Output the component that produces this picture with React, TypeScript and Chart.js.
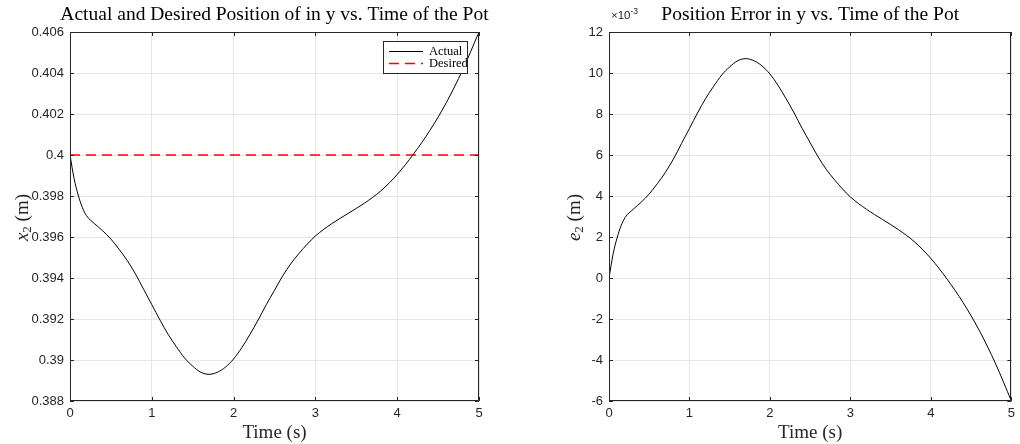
import React, { useEffect, useRef } from "react";
import { Chart, registerables } from "chart.js";

Chart.register(...registerables);

// ---- data ----
const timeS = [0, 0.05, 0.1, 0.15, 0.2, 0.3, 0.4, 0.5, 0.6, 0.7, 0.8, 0.9, 1.0, 1.1, 1.2, 1.3, 1.4, 1.5, 1.6, 1.7, 1.8, 1.9, 2.0, 2.1, 2.2, 2.3, 2.4, 2.5, 2.6, 2.7, 2.8, 2.9, 3.0, 3.2, 3.4, 3.6, 3.8, 4.0, 4.2, 4.4, 4.6, 4.8, 5.0];
const actualPos = [0.4, 0.39885, 0.39805, 0.39745, 0.39705, 0.39665, 0.3963, 0.3959, 0.3954, 0.39485, 0.3942, 0.39345, 0.3927, 0.39195, 0.39125, 0.39065, 0.3901, 0.3897, 0.3894, 0.3893, 0.3894, 0.38965, 0.39005, 0.3906, 0.39125, 0.39195, 0.3927, 0.3934, 0.3941, 0.3947, 0.3952, 0.39565, 0.39605, 0.39665, 0.39715, 0.39765, 0.39825, 0.39905, 0.40005, 0.4012, 0.40255, 0.40415, 0.406];
const desiredTime = [0, 5];
const desiredPos = [0.4, 0.4];
const errorE3 = [0, 1.15, 1.95, 2.55, 2.95, 3.35, 3.7, 4.1, 4.6, 5.15, 5.8, 6.55, 7.3, 8.05, 8.75, 9.35, 9.9, 10.3, 10.6, 10.7, 10.6, 10.35, 9.95, 9.4, 8.75, 8.05, 7.3, 6.6, 5.9, 5.3, 4.8, 4.35, 3.95, 3.35, 2.85, 2.35, 1.75, 0.95, -0.05, -1.2, -2.55, -4.15, -6.0];

const xTicks = [0, 1, 2, 3, 4, 5];
const yTicksLeft = [0.388, 0.39, 0.392, 0.394, 0.396, 0.398, 0.4, 0.402, 0.404, 0.406];
const yTicksRight = [-6, -4, -2, 0, 2, 4, 6, 8, 10, 12];

const leftTitle = "Actual and Desired Position of in y vs. Time of the Pot";
const rightTitle = "Position Error in y vs. Time of the Pot";
const xLabel = "Time (s)";
const legendLabels = ["Actual", "Desired"];

const AXIS = "#262626";
const GRID = "#e6e6e6";
const SERIF = "'Liberation Serif', 'DejaVu Serif', serif";
const SANS = "'Liberation Sans', Arial, sans-serif";

function fmt(v: number) {
  return String(Number(v.toFixed(4)));
}

function decorPlugin(opts: { title: string; yVar: string; yLabelOffset: number; legend?: boolean; exponent?: boolean }) {
  return {
    id: "decor",
    afterDraw(chart: any) {
      const ctx = chart.ctx as CanvasRenderingContext2D;
      const a = chart.chartArea;
      const xs = chart.scales.x;
      const ys = chart.scales.y;
      ctx.save();
      // box
      ctx.strokeStyle = AXIS;
      ctx.lineWidth = 1;
      ctx.beginPath();
      ctx.rect(Math.round(a.left) + 0.5, Math.round(a.top) + 0.5, Math.round(a.right - a.left) - 1, Math.round(a.bottom - a.top) - 1);
      ctx.stroke();
      // inward ticks
      const tl = 4;
      ctx.beginPath();
      xs.ticks.forEach((t: any) => {
        const px = Math.round(xs.getPixelForValue(t.value)) + 0.5;
        ctx.moveTo(px, a.bottom);
        ctx.lineTo(px, a.bottom - tl);
        ctx.moveTo(px, a.top);
        ctx.lineTo(px, a.top + tl);
      });
      ys.ticks.forEach((t: any) => {
        const py = Math.round(ys.getPixelForValue(t.value)) + 0.5;
        ctx.moveTo(a.left, py);
        ctx.lineTo(a.left + tl, py);
        ctx.moveTo(a.right, py);
        ctx.lineTo(a.right - tl, py);
      });
      ctx.stroke();

      // title
      ctx.fillStyle = "#000";
      ctx.font = `19.5px ${SERIF}`;
      ctx.textAlign = "center";
      ctx.textBaseline = "alphabetic";
      ctx.fillText(opts.title, (a.left + a.right) / 2, 20);

      // x label
      ctx.fillStyle = AXIS;
      ctx.font = `19px ${SERIF}`;
      ctx.fillText(xLabel, (a.left + a.right) / 2, 438);

      // y label (rotated)
      ctx.save();
      ctx.translate(a.left - opts.yLabelOffset, (a.top + a.bottom) / 2 + 1);
      ctx.rotate(-Math.PI / 2);
      const fVar = `italic 19px ${SERIF}`;
      const fSub = `13px ${SERIF}`;
      const fMain = `19px ${SERIF}`;
      ctx.font = fVar;
      const wv = ctx.measureText(opts.yVar).width;
      ctx.font = fSub;
      const ws = ctx.measureText("2").width;
      ctx.font = fMain;
      const wr = ctx.measureText(" (m)").width;
      let x0 = -(wv + ws + wr) / 2;
      ctx.textAlign = "left";
      ctx.font = fVar;
      ctx.fillText(opts.yVar, x0, 6);
      x0 += wv;
      ctx.font = fSub;
      ctx.fillText("2", x0, 9);
      x0 += ws;
      ctx.font = fMain;
      ctx.fillText(" (m)", x0, 6);
      ctx.restore();

      if (opts.exponent) {
        ctx.fillStyle = AXIS;
        ctx.textAlign = "left";
        ctx.font = `11.5px ${SANS}`;
        ctx.fillText("\u00d710", a.left + 2, 19);
        const w = ctx.measureText("\u00d710").width;
        ctx.font = `8.5px ${SANS}`;
        ctx.fillText("-3", a.left + 2 + w, 14);
      }

      if (opts.legend) {
        const bx = 383.5, by = 41.5, bw = 84, bh = 32;
        ctx.fillStyle = "#fff";
        ctx.fillRect(bx, by, bw, bh);
        ctx.strokeStyle = "#262626";
        ctx.lineWidth = 1;
        ctx.strokeRect(bx, by, bw, bh);
        ctx.lineWidth = 1;
        ctx.strokeStyle = "#000";
        ctx.beginPath();
        ctx.moveTo(389, 51.5);
        ctx.lineTo(423, 51.5);
        ctx.stroke();
        ctx.strokeStyle = "#ff0000";
        ctx.lineWidth = 1.3;
        ctx.setLineDash([10, 6]);
        ctx.beginPath();
        ctx.moveTo(389, 63.5);
        ctx.lineTo(423, 63.5);
        ctx.stroke();
        ctx.setLineDash([]);
        ctx.fillStyle = "#000";
        ctx.font = `12.5px ${SERIF}`;
        ctx.textAlign = "left";
        ctx.textBaseline = "middle";
        ctx.fillText(legendLabels[0], 429, 52);
        ctx.fillText(legendLabels[1], 429, 64);
      }
      ctx.restore();
    },
  };
}

function baseScales(yMin: number, yMax: number, yTicks: number[], yWidth: number) {
  return {
    x: {
      type: "linear",
      min: 0,
      max: 5,
      afterBuildTicks: (s: any) => {
        s.ticks = xTicks.map((v) => ({ value: v }));
      },
      afterFit: (s: any) => {
        s.height = 43;
      },
      grid: { color: GRID, drawTicks: false, lineWidth: 1 },
      border: { display: false },
      ticks: {
        color: AXIS,
        font: { family: SANS, size: 13 },
        padding: 5,
        maxRotation: 0,
        callback: (v: any) => fmt(Number(v)),
      },
    },
    y: {
      type: "linear",
      min: yMin,
      max: yMax,
      afterBuildTicks: (s: any) => {
        s.ticks = yTicks.map((v) => ({ value: v }));
      },
      afterFit: (s: any) => {
        s.width = yWidth;
      },
      grid: { color: GRID, drawTicks: false, lineWidth: 1 },
      border: { display: false },
      ticks: {
        color: AXIS,
        font: { family: SANS, size: 13 },
        padding: 6,
        callback: (v: any) => fmt(Number(v)),
      },
    },
  };
}

export default function App() {
  const leftRef = useRef<HTMLCanvasElement | null>(null);
  const rightRef = useRef<HTMLCanvasElement | null>(null);

  useEffect(() => {
    const left = new Chart(leftRef.current as HTMLCanvasElement, {
      type: "line",
      data: {
        datasets: [
          {
            label: legendLabels[0],
            data: timeS.map((t, i) => ({ x: t, y: actualPos[i] })),
            borderColor: "#000",
            borderWidth: 1,
            pointRadius: 0,
            cubicInterpolationMode: "monotone",
          },
          {
            label: legendLabels[1],
            data: desiredTime.map((t, i) => ({ x: t, y: desiredPos[i] })),
            borderColor: "#ff0000",
            borderWidth: 1.3,
            borderDash: [10, 6],
            pointRadius: 0,
          },
        ],
      } as any,
      options: {
        responsive: false,
        animation: false,
        devicePixelRatio: 1,
        layout: { padding: { left: 0, right: 31, top: 32, bottom: 0 } },
        plugins: { legend: { display: false }, tooltip: { enabled: false } },
        scales: baseScales(0.388, 0.406, yTicksLeft, 70) as any,
      },
      plugins: [decorPlugin({ title: leftTitle, yVar: "x", yLabelOffset: 48, legend: true })],
    });

    const right = new Chart(rightRef.current as HTMLCanvasElement, {
      type: "line",
      data: {
        datasets: [
          {
            label: "Error",
            data: timeS.map((t, i) => ({ x: t, y: errorE3[i] })),
            borderColor: "#000",
            borderWidth: 1,
            pointRadius: 0,
            cubicInterpolationMode: "monotone",
          },
        ],
      } as any,
      options: {
        responsive: false,
        animation: false,
        devicePixelRatio: 1,
        layout: { padding: { left: 0, right: 1, top: 32, bottom: 0 } },
        plugins: { legend: { display: false }, tooltip: { enabled: false } },
        scales: baseScales(-6, 12, yTicksRight, 99) as any,
      },
      plugins: [decorPlugin({ title: rightTitle, yVar: "e", yLabelOffset: 35, exponent: true })],
    });

    return () => {
      left.destroy();
      right.destroy();
    };
  }, []);

  return (
    <div style={{ position: "fixed", left: 0, top: 0, width: 1020, height: 444, background: "#fff" }}>
      <canvas ref={leftRef} width={510} height={444} style={{ position: "absolute", left: 0, top: 0, width: 510, height: 444 }} />
      <canvas ref={rightRef} width={510} height={444} style={{ position: "absolute", left: 510, top: 0, width: 510, height: 444 }} />
    </div>
  );
}
